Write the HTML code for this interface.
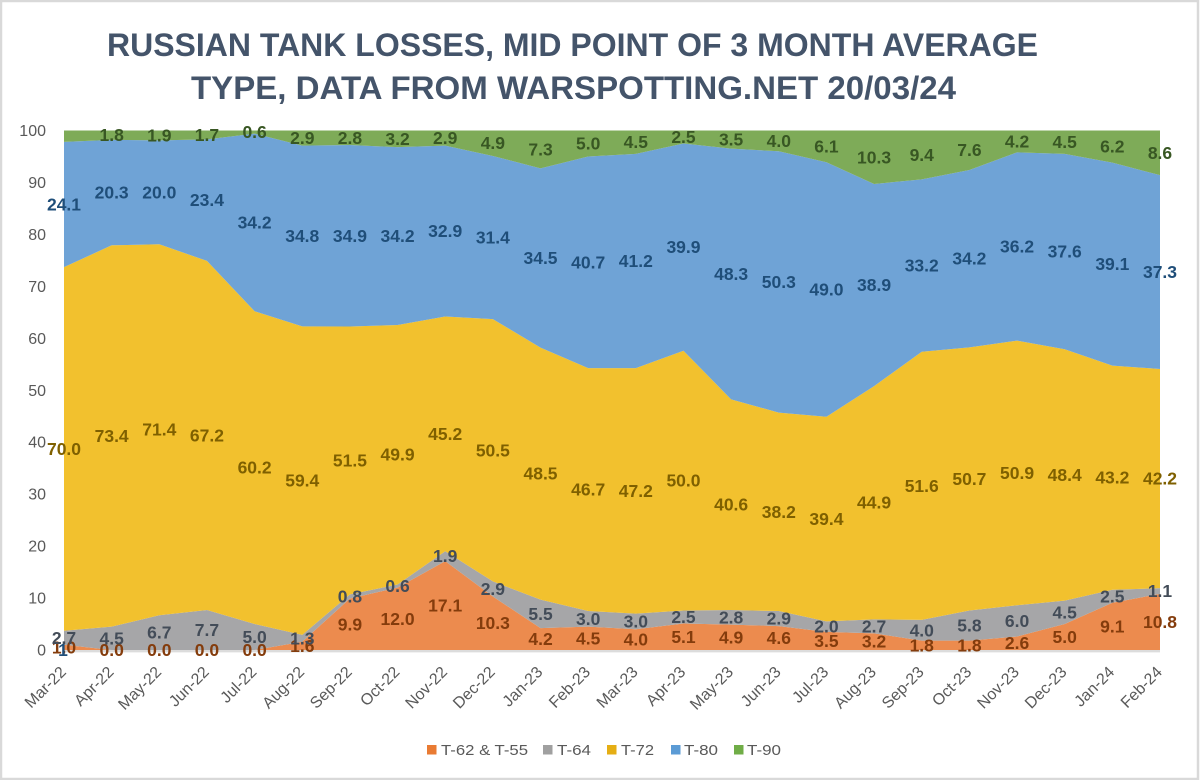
<!DOCTYPE html>
<html lang="en">
<head>
<meta charset="utf-8">
<title>Russian tank losses</title>
<style>
html,body{margin:0;padding:0;background:#fff;}
svg{display:block;font-family:"Liberation Sans",sans-serif;}
</style>
</head>
<body>
<svg id="chart" xmlns="http://www.w3.org/2000/svg" width="1200" height="780" viewBox="0 0 1200 780">
<rect x="1" y="1" width="1197" height="778" fill="#ffffff" stroke="#d9d9d9" stroke-width="2.5"/>
<text x="572.5" y="56" text-anchor="middle" font-size="32" font-weight="700" fill="#44546a" textLength="931" lengthAdjust="spacingAndGlyphs">RUSSIAN TANK LOSSES, MID POINT OF 3 MONTH AVERAGE</text>
<text x="573.5" y="99" text-anchor="middle" font-size="32" font-weight="700" fill="#44546a" textLength="765" lengthAdjust="spacingAndGlyphs">TYPE, DATA FROM WARSPOTTING.NET 20/03/24</text>
<g id="areas"></g>
<g id="axes"></g>
<g id="labels"></g>
<g id="legend"></g>
</svg>
<script>
const categories = ["Mar-22","Apr-22","May-22","Jun-22","Jul-22","Aug-22","Sep-22","Oct-22","Nov-22","Dec-22","Jan-23","Feb-23","Mar-23","Apr-23","May-23","Jun-23","Jul-23","Aug-23","Sep-23","Oct-23","Nov-23","Dec-23","Jan-24","Feb-24"];
const t62 = [1.0,0.0,0.0,0.0,0.0,1.6,9.9,12.0,17.1,10.3,4.2,4.5,4.0,5.1,4.9,4.6,3.5,3.2,1.8,1.8,2.6,5.0,9.1,10.8];
const t64 = [2.7,4.5,6.7,7.7,5.0,1.3,0.8,0.6,1.9,2.9,5.5,3.0,3.0,2.5,2.8,2.9,2.0,2.7,4.0,5.8,6.0,4.5,2.5,1.1];
const t72 = [70.0,73.4,71.4,67.2,60.2,59.4,51.5,49.9,45.2,50.5,48.5,46.7,47.2,50.0,40.6,38.2,39.4,44.9,51.6,50.7,50.9,48.4,43.2,42.2];
const t80 = [24.1,20.3,20.0,23.4,34.2,34.8,34.9,34.2,32.9,31.4,34.5,40.7,41.2,39.9,48.3,50.3,49.0,38.9,33.2,34.2,36.2,37.6,39.1,37.3];
const t90 = [2.2,1.8,1.9,1.7,0.6,2.9,2.8,3.2,2.9,4.9,7.3,5.0,4.5,2.5,3.5,4.0,6.1,10.3,9.4,7.6,4.2,4.5,6.2,8.6];
const yTicks = [0,10,20,30,40,50,60,70,80,90,100];
const seriesNames = ["T-62 & T-55","T-64","T-72","T-80","T-90"];

const NS = "http://www.w3.org/2000/svg";
const seriesValues = [t62,t64,t72,t80,t90];
const areaColors = ["#ec8b4e","#a6a6a8","#f2c12e","#6fa3d6","#7eab58"];
const labelColors = ["#843c0c","#434c58","#7f6000","#1f4e79","#385723"];
const swatchColors = ["#e97b33","#a0a0a0","#e5ae14","#5b9bd5","#70ad47"];
const legendSwatchX = [427,543,607,671,734];
const legendTextX = [441,557,621,684,747];
const legendTextW = [87,34,33,34,34];
const plot = {left:64,right:1160,top:130.5,bottom:650};

function xScale(i){ return plot.left + i*(plot.right-plot.left)/(categories.length-1); }
function yScale(v){ return plot.bottom - v*(plot.bottom-plot.top)/100; }
function mk(tag, attrs, parent, txt){
  const el = document.createElementNS(NS, tag);
  for (const k in attrs) el.setAttribute(k, attrs[k]);
  if (txt !== undefined) el.textContent = txt;
  parent.appendChild(el);
  return el;
}

const areasG = document.getElementById("areas");
const axesG = document.getElementById("axes");
const labelsG = document.getElementById("labels");
const legendG = document.getElementById("legend");

/* 100% stack: each month is normalised to its own total */
const totals = categories.map((c,i)=>seriesValues.reduce((sum,vals)=>sum+vals[i],0));
const lower = categories.map(()=>0);
const bands = seriesValues.map(vals=>{
  const lo = lower.slice();
  const hi = lo.map((b,i)=>b+vals[i]*100/totals[i]);
  hi.forEach((h,i)=>{lower[i]=h;});
  return {lo,hi};
});

/* axis baseline */
const baseLine = mk("line",{x1:plot.left,x2:plot.right,y1:plot.bottom+1.2,y2:plot.bottom+1.2,stroke:"#dcdcdc","stroke-width":2.4},axesG);



/* areas */
bands.forEach((b,s)=>{
  const top = b.hi.map((v,i)=>xScale(i).toFixed(2)+","+yScale(v).toFixed(2));
  const bot = b.lo.map((v,i)=>xScale(i).toFixed(2)+","+yScale(v).toFixed(2)).reverse();
  const poly = mk("polygon",{points:top.concat(bot).join(" "),fill:areaColors[s]},areasG);
  
  
});

/* y axis */
yTicks.forEach(t=>{
  const el = mk("text",{x:46,y:yScale(t)+5.5,"text-anchor":"end","font-size":16,fill:"#595959"},axesG,String(t));
  
  
});

/* x axis */
categories.forEach((c,i)=>{
  const x = xScale(i)+3, y = 673;
  const el = mk("text",{x:x,y:y,"text-anchor":"end","font-size":16,fill:"#595959",transform:"rotate(-45 "+x+" "+y+")"},axesG,c);
  
  
});

/* data labels */
seriesValues.forEach((vals,s)=>{
  vals.forEach((v,i)=>{
    if (s===4 && i===0) return;
    const mid = (bands[s].lo[i]+bands[s].hi[i])/2;
    const el = mk("text",{x:xScale(i),y:yScale(mid)+6,"text-anchor":"middle","font-size":17.5,"font-weight":700,fill:labelColors[s]},labelsG,v.toFixed(1));
    
    
  });
});
const stray = mk("text",{x:xScale(0)-1,y:yScale(0)+6,"text-anchor":"middle","font-size":17.5,"font-weight":700,fill:labelColors[3]},labelsG,"1");



/* legend */
seriesNames.forEach((n,s)=>{
  const sw = mk("rect",{x:legendSwatchX[s],y:745,width:9.5,height:9.5,fill:swatchColors[s]},legendG);
  
  
  const tx = mk("text",{x:legendTextX[s],y:755,"font-size":15,fill:"#595959",textLength:legendTextW[s],lengthAdjust:"spacingAndGlyphs"},legendG,n);
  
  
});
</script>
</body>
</html>
